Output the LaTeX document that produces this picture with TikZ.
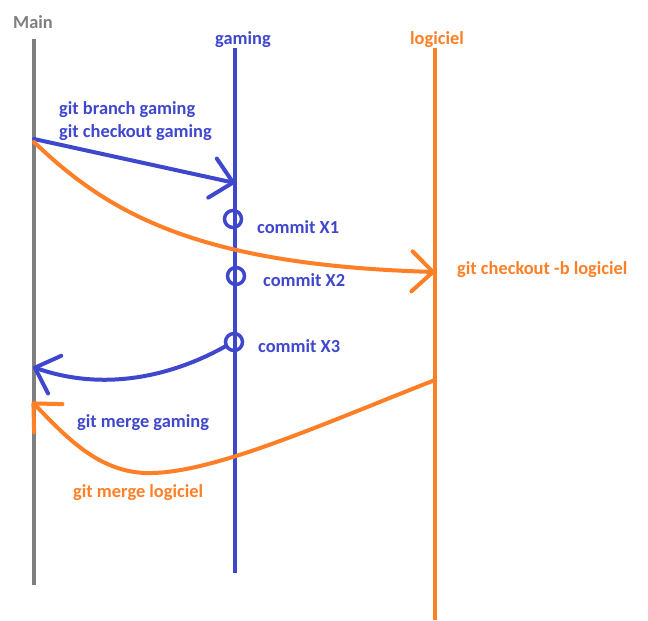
\documentclass[tikz,border=0pt]{standalone}
\usepackage{fontspec}
\setmainfont{Carlito}
\usetikzlibrary{arrows.meta}
\definecolor{pblue}{RGB}{63,72,204}
\definecolor{porange}{RGB}{255,127,39}
\definecolor{pgray}{RGB}{127,127,127}
\tikzset{
  lbl/.style={inner sep=0pt, font=\fontsize{18.4}{20}\selectfont\bfseries},
  branchline/.style={line width=4.5pt},
  conn/.style={line width=4pt, line cap=round},
  barb/.style={-{Straight Barb[length=21pt,width=40pt,line cap=round,line join=round]}},
  commitdot/.style={circle, draw=pblue, line width=3.5pt, minimum size=17pt, inner sep=0pt},
}
\begin{document}
\begin{tikzpicture}[x=1pt,y=-1pt]
\useasboundingbox[fill=white] (0,0) rectangle (648,621);

% branch labels
\node[lbl, text=pgray, anchor=west] (mainlbl) at (13,22) {Main};
\node[lbl, text=pblue] (gaminglbl) at (243,40) {gaming};
\node[lbl, text=porange] (logiciellbl) at (437,40) {logiciel};

% branch lines
\coordinate (mtop) at (34,39);
\coordinate (mbot) at (34,585);
\coordinate (gtop) at (235,48);
\coordinate (gbot) at (235,573);
\coordinate (ltop) at (435,48);
\coordinate (lbot) at (435,620);
\draw[branchline, pgray] (mtop) -- (mbot);
\draw[branchline, pblue] (gtop) -- (gbot);
\draw[branchline, porange] (ltop) -- (lbot);

% commits
\node[commitdot] (c1) at (233,219) {};
\node[commitdot] (c2) at (236,276) {};
\node[commitdot] (c3) at (234,342) {};
\node[lbl, text=pblue, anchor=west] (c1lbl) at (257,227) {commit X1};
\node[lbl, text=pblue, anchor=west] (c2lbl) at (263,280) {commit X2};
\node[lbl, text=pblue, anchor=west] (c3lbl) at (258,346) {commit X3};

% branch gaming
\coordinate (mfork) at (34,139);
\coordinate (gin) at (235,183);
\draw[conn, pblue, barb] (mfork) -- (gin);
\node[lbl, text=pblue, anchor=west] (cmd1) at (59,110) {git branch gaming};
\node[lbl, text=pblue, anchor=west] (cmd2) at (59,133) {git checkout gaming};

% checkout -b logiciel
\coordinate (mfork2) at (34,142);
\coordinate (lin) at (435,272);
\draw[conn, porange, barb] (mfork2) .. controls (110,215) and (200,265) .. (lin);
\node[lbl, text=porange, anchor=west] (cmd3) at (457,270) {git checkout -b logiciel};

% merge gaming
\coordinate (gout) at (226,346);
\coordinate (min1) at (33,367);
\draw[conn, pblue, barb] (gout) .. controls (180,372) and (110,394) .. (min1);
\node[lbl, text=pblue, anchor=west] (cmd4) at (77,423) {git merge gaming};

% merge logiciel
\coordinate (lout) at (435,380);
\coordinate (mlow) at (145,473);
\coordinate (min2) at (32,402);
\draw[conn, porange, barb] (lout) .. controls (320,425) and (210,475) .. (mlow)
  .. controls (95,471) and (62,432) .. (min2);
\node[lbl, text=porange, anchor=west] (cmd5) at (73,493) {git merge logiciel};
\end{tikzpicture}
\end{document}
